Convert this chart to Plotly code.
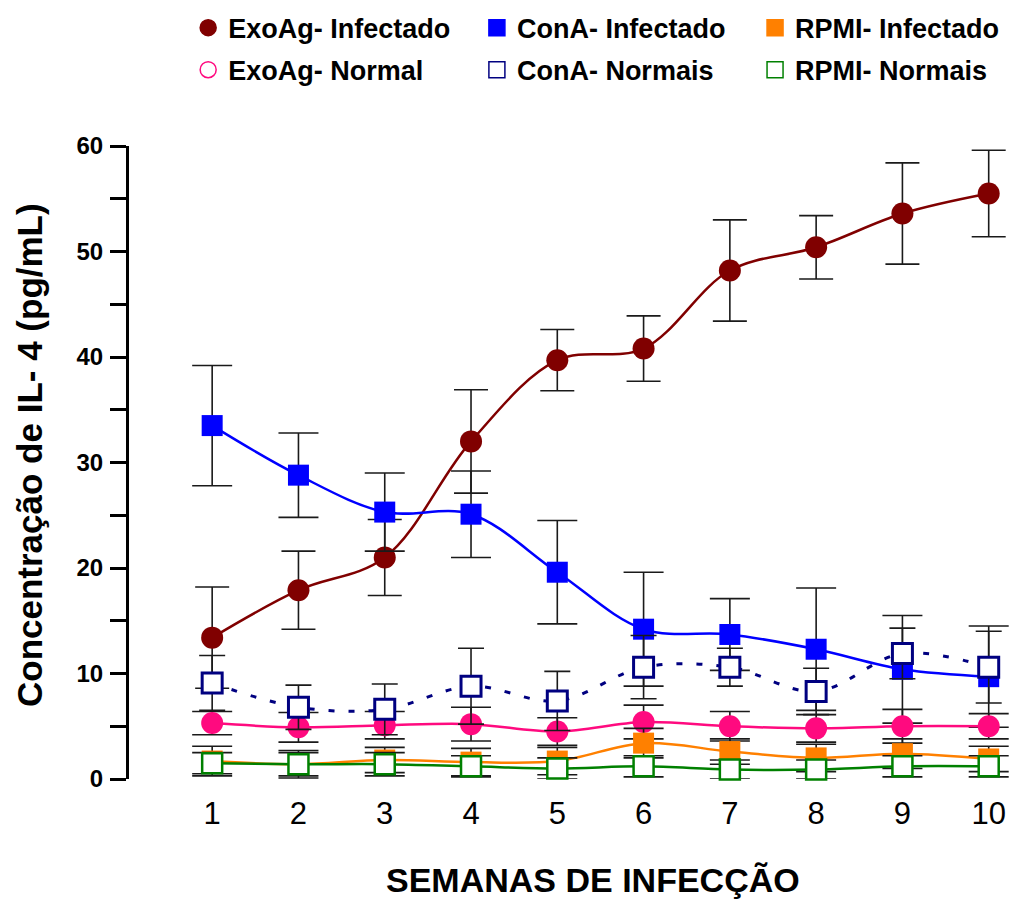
import plotly.graph_objects as go

weeks = [1, 2, 3, 4, 5, 6, 7, 8, 9, 10]

exo_inf = [13.4, 17.9, 21.0, 32.0, 39.7, 40.8, 48.2, 50.4, 53.6, 55.5]
exo_inf_err = [4.8, 3.7, 3.6, 4.9, 2.9, 3.1, 4.8, 3.0, 4.8, 4.1]

cona_inf = [33.5, 28.8, 25.3, 25.1, 19.6, 14.2, 13.7, 12.3, 10.4, 9.7]
cona_inf_err = [5.7, 4.0, 3.7, 4.1, 4.9, 5.4, 3.4, 5.8, 5.1, 4.8]

exo_norm = [5.3, 4.9, 5.1, 5.2, 4.5, 5.4, 5.0, 4.8, 5.0, 5.0]
exo_norm_err = [1.1, 1.4, 1.3, 1.6, 1.3, 1.6, 1.4, 1.3, 1.6, 1.2]

rpmi_inf = [1.7, 1.4, 1.8, 1.6, 1.7, 3.4, 2.6, 2.0, 2.4, 1.9]
rpmi_inf_err = [1.4, 1.3, 1.2, 1.3, 1.3, 1.4, 1.2, 1.3, 1.4, 1.2]

cona_norm = [9.1, 6.8, 6.6, 8.8, 7.4, 10.6, 10.6, 8.3, 11.9, 10.6]
cona_norm_err = [2.6, 2.1, 2.4, 3.6, 2.8, 3.0, 1.8, 2.2, 2.4, 3.4]

rpmi_norm = [1.5, 1.4, 1.4, 1.2, 1.0, 1.2, 0.9, 0.9, 1.2, 1.2]
rpmi_norm_err = [1.0, 1.1, 1.1, 1.0, 1.0, 1.0, 0.9, 0.9, 1.0, 1.0]

y_tickvals = [0, 5, 10, 15, 20, 25, 30, 35, 40, 45, 50, 55, 60]
y_ticktext = ["0", "", "10", "", "20", "", "30", "", "40", "", "50", "", "60"]
x_ticktext = ["1", "2", "3", "4", "5", "6", "7", "8", "9", "10"]

FONT = "Liberation Sans, Arial, Helvetica, sans-serif"
NARROW = "Liberation Sans Narrow, Arial Narrow, Liberation Sans, Arial, sans-serif"

C_EXO_INF = "#800000"
C_EXO_NORM = "#FF0A7F"
C_CONA_INF = "#0000FF"
C_CONA_NORM = "#000080"
C_RPMI_INF = "#FF8000"
C_RPMI_NORM = "#008000"


def err(vals, w):
    return dict(type="data", array=vals, visible=True, color="#1a1a1a",
                thickness=1.6, width=w)


fig = go.Figure()

fig.add_trace(go.Scatter(
    x=weeks, y=exo_inf, mode="lines+markers", name="ExoAg- Infectado",
    line=dict(color=C_EXO_INF, width=2.5, shape="spline", smoothing=1),
    marker=dict(symbol="circle", size=22, color=C_EXO_INF),
    error_y=err(exo_inf_err, 17), cliponaxis=False, showlegend=False))

fig.add_trace(go.Scatter(
    x=weeks, y=cona_inf, mode="lines+markers", name="ConA- Infectado",
    line=dict(color=C_CONA_INF, width=2.5, shape="spline", smoothing=1),
    marker=dict(symbol="square", size=21, color=C_CONA_INF),
    error_y=err(cona_inf_err, 20), cliponaxis=False, showlegend=False))

fig.add_trace(go.Scatter(
    x=weeks, y=exo_norm, mode="lines+markers", name="ExoAg- Normal",
    line=dict(color=C_EXO_NORM, width=2.5, shape="spline", smoothing=1),
    marker=dict(symbol="circle", size=22, color=C_EXO_NORM),
    error_y=err(exo_norm_err, 20), cliponaxis=False, showlegend=False))

fig.add_trace(go.Scatter(
    x=weeks, y=rpmi_inf, mode="lines+markers", name="RPMI- Infectado",
    line=dict(color=C_RPMI_INF, width=2.5, shape="spline", smoothing=1),
    marker=dict(symbol="square", size=21, color=C_RPMI_INF),
    error_y=err(rpmi_inf_err, 20), cliponaxis=False, showlegend=False))

fig.add_trace(go.Scatter(
    x=weeks, y=cona_norm, mode="lines+markers", name="ConA- Normais",
    line=dict(color=C_CONA_NORM, width=3, shape="spline", smoothing=1,
              dash="6px,14px"),
    marker=dict(symbol="square", size=20, color="white",
                line=dict(color=C_CONA_NORM, width=3)),
    error_y=err(cona_norm_err, 13), cliponaxis=False, showlegend=False))

fig.add_trace(go.Scatter(
    x=weeks, y=rpmi_norm, mode="lines+markers", name="RPMI- Normais",
    line=dict(color=C_RPMI_NORM, width=2.5, shape="spline", smoothing=1),
    marker=dict(symbol="square", size=20, color="white",
                line=dict(color=C_RPMI_NORM, width=2.5)),
    error_y=err(rpmi_norm_err, 20), cliponaxis=False, showlegend=False))

# legend entries: three legends, each a column of two rows
legend_items = [
    ("ExoAg- Infectado", "circle", C_EXO_INF, C_EXO_INF, "legend"),
    ("ExoAg- Normal", "circle-open", C_EXO_NORM, C_EXO_NORM, "legend"),
    ("ConA- Infectado", "square", C_CONA_INF, C_CONA_INF, "legend2"),
    ("ConA- Normais", "square", "white", C_CONA_NORM, "legend2"),
    ("RPMI- Infectado", "square", C_RPMI_INF, C_RPMI_INF, "legend3"),
    ("RPMI- Normais", "square", "white", C_RPMI_NORM, "legend3"),
]
for i, (nm, sym, fc, lc, lg) in enumerate(legend_items):
    fig.add_trace(go.Scatter(
        x=[None], y=[None], mode="markers", name=nm, legend=lg,
        legendgroup=nm, legendrank=i + 1,
        marker=dict(symbol=sym, size=16, color=fc,
                    line=dict(color=lc, width=1.5))))


def leg(xpos):
    return dict(orientation="v", x=xpos, y=1.225, xanchor="left",
                yanchor="top", traceorder="grouped", tracegroupgap=4,
                font=dict(family=FONT, size=27, color="black",
                          weight="bold"),
                itemsizing="trace", bgcolor="rgba(0,0,0,0)")


fig.update_layout(
    width=1012, height=899,
    margin=dict(l=129, r=0, t=146, b=120),
    plot_bgcolor="white", paper_bgcolor="white",
    font=dict(family=FONT, color="black"),
    legend=leg(0.067),
    legend2=leg(0.394),
    legend3=leg(0.709),
    xaxis=dict(range=[0.036, 10.27], showline=False, showgrid=False,
               zeroline=False, ticks="", tickvals=weeks,
               ticktext=x_ticktext, ticklabelstandoff=13,
               tickfont=dict(family=NARROW, size=31, color="black")),
    yaxis=dict(range=[0, 60], showline=True, linewidth=3,
               linecolor="black", showgrid=False, zeroline=False,
               ticks="outside", ticklen=16, tickwidth=2.5,
               tickcolor="black", tickvals=y_tickvals,
               ticktext=y_ticktext, ticklabelstandoff=2,
               tickfont=dict(family=FONT, size=24, color="black",
                             weight="bold")),
    annotations=[
        dict(text="Concentração de IL- 4 (pg/mL)", xref="paper",
             yref="paper", x=-0.112, y=0.512, xanchor="center",
             yanchor="middle", textangle=-90, showarrow=False,
             font=dict(family=FONT, size=35, color="black",
                       weight="bold")),
        dict(text="SEMANAS DE INFECÇÃO", xref="paper", yref="paper",
             x=0.526, y=-0.16, xanchor="center", yanchor="middle",
             showarrow=False,
             font=dict(family=NARROW, size=34, color="black",
                       weight="bold")),
    ],
)

fig.write_html("out.html")
